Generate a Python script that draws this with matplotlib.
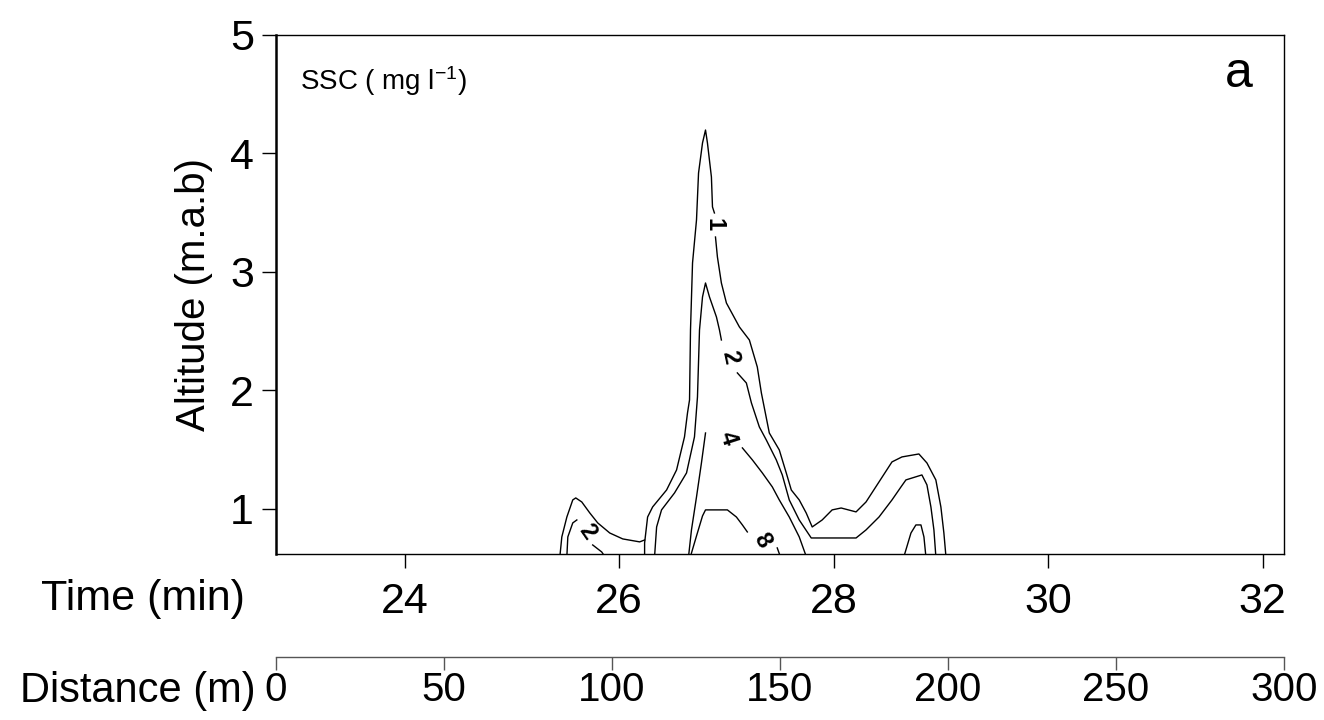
import matplotlib
matplotlib.use("Agg")
import matplotlib.pyplot as plt

plt.rcParams["font.family"] = ["Liberation Sans", "DejaVu Sans"]
plt.rcParams["mathtext.fontset"] = "custom"
plt.rcParams["mathtext.rm"] = "Liberation Sans"
plt.rcParams["mathtext.it"] = "Liberation Sans"

# SSC contour lines (time in min, altitude in m above bed), split where a label sits
c1_bump_t = [25.447, 25.465, 25.512, 25.567, 25.595, 25.651, 25.726, 25.800, 25.912, 26.033, 26.191, 26.237]
c1_bump_a = [0.60, 0.764, 0.932, 1.076, 1.093, 1.059, 0.966, 0.882, 0.797, 0.747, 0.722, 0.738]
c1_left_t = [26.237, 26.237, 26.265, 26.312, 26.442, 26.535, 26.609, 26.637, 26.656, 26.665,
             26.684, 26.721, 26.740, 26.777, 26.805, 26.823, 26.860, 26.870, 26.888]
c1_left_a = [0.60, 0.713, 0.932, 1.017, 1.160, 1.329, 1.608, 1.810, 1.920, 2.511,
             3.076, 3.439, 3.835, 4.089, 4.198, 4.089, 3.802, 3.549, 3.498]
c1_right_t = [26.898, 26.916, 26.953, 27.000, 27.121, 27.214, 27.288, 27.326, 27.400, 27.493,
              27.558, 27.605, 27.679, 27.744, 27.800, 27.893, 27.986, 28.070, 28.209, 28.302,
              28.423, 28.544, 28.637, 28.795, 28.870, 28.953, 29.000, 29.028, 29.047]
c1_right_a = [3.295, 3.127, 2.907, 2.738, 2.536, 2.426, 2.198, 1.979, 1.641, 1.498,
              1.304, 1.160, 1.076, 0.966, 0.848, 0.907, 0.992, 1.008, 0.975, 1.059,
              1.228, 1.397, 1.439, 1.464, 1.388, 1.245, 1.017, 0.797, 0.60]

c2_bump_l_t = [25.512, 25.521, 25.567, 25.605]
c2_bump_l_a = [0.60, 0.764, 0.882, 0.907]
c2_bump_r_t = [25.753, 25.837, 25.865]
c2_bump_r_a = [0.696, 0.637, 0.60]
c2_left_t = [26.330, 26.349, 26.395, 26.516, 26.628, 26.702, 26.730, 26.749, 26.777, 26.805,
             26.842, 26.907, 26.935, 26.953]
c2_left_a = [0.60, 0.848, 0.992, 1.135, 1.304, 1.608, 1.945, 2.511, 2.789, 2.907,
             2.789, 2.620, 2.511, 2.426]
c2_right_t = [27.102, 27.186, 27.233, 27.307, 27.372, 27.465, 27.521, 27.586, 27.679, 27.791,
              28.209, 28.302, 28.423, 28.544, 28.628, 28.674, 28.823, 28.870, 28.907, 28.935, 28.953]
c2_right_a = [2.148, 2.063, 1.895, 1.692, 1.582, 1.414, 1.287, 1.076, 0.907, 0.755,
              0.755, 0.823, 0.932, 1.076, 1.186, 1.245, 1.287, 1.203, 1.017, 0.823, 0.60]

c4_left_t = [26.647, 26.674, 26.721, 26.767, 26.805]
c4_left_a = [0.60, 0.823, 1.101, 1.388, 1.641]
c4_right_t = [27.149, 27.242, 27.335, 27.428, 27.493, 27.586, 27.679, 27.744]
c4_right_a = [1.515, 1.414, 1.304, 1.186, 1.076, 0.932, 0.764, 0.60]
c4_dome_t = [28.656, 28.721, 28.767, 28.814, 28.842, 28.860]
c4_dome_a = [0.60, 0.797, 0.865, 0.865, 0.764, 0.60]

c8_left_t = [26.665, 26.721, 26.777, 26.805, 27.009, 27.093, 27.149, 27.195]
c8_left_a = [0.60, 0.772, 0.941, 0.992, 0.992, 0.932, 0.865, 0.806]
c8_right_t = [27.474, 27.502]
c8_right_a = [0.671, 0.60]

# contour labels: text, time, altitude, rotation
label_text = ["1", "2", "4", "8", "2"]
label_t = [26.888, 27.028, 27.009, 27.335, 25.698]
label_a = [3.397, 2.283, 1.599, 0.738, 0.806]
label_rot = [-90, -78, -72, -60, -55]

time_ticks = [24, 26, 28, 30, 32]
alt_ticks = [1, 2, 3, 4, 5]
dist_ticks = [0, 50, 100, 150, 200, 250, 300]

fig = plt.figure(figsize=(13.24, 7.2), dpi=100)
ax = fig.add_axes([0.2085, 0.2306, 0.7613, 0.7208])

segments = [
    (c1_bump_t, c1_bump_a), (c1_left_t, c1_left_a), (c1_right_t, c1_right_a),
    (c2_bump_l_t, c2_bump_l_a), (c2_bump_r_t, c2_bump_r_a),
    (c2_left_t, c2_left_a), (c2_right_t, c2_right_a),
    (c4_left_t, c4_left_a), (c4_right_t, c4_right_a), (c4_dome_t, c4_dome_a),
    (c8_left_t, c8_left_a), (c8_right_t, c8_right_a),
]
for t, a in segments:
    ax.plot(t, a, color="black", lw=1.0)

for s, t, a, r in zip(label_text, label_t, label_a, label_rot):
    ax.text(t, a, s, rotation=r, ha="center", va="center", fontsize=17,
            fontweight="bold", color="black")

ax.set_xlim(22.8, 32.2)
ax.set_ylim(0.62, 5.0)
ax.set_xticks(time_ticks)
ax.set_yticks(alt_ticks)
ax.tick_params(axis="both", direction="out", length=10, width=1.0, labelsize=31, pad=6)
ax.tick_params(axis="x", pad=10)
for side in ["top", "right", "bottom"]:
    ax.spines[side].set_linewidth(1.0)
ax.spines["left"].set_linewidth(1.8)
ax.set_ylabel("Altitude (m.a.b)", fontsize=29, labelpad=12)

ax.text(0.024, 0.912, "SSC ( mg l$^{-1}$)", transform=ax.transAxes, fontsize=20,
        ha="left", va="center")
ax.text(0.955, 0.925, "a", transform=ax.transAxes, fontsize=36, ha="center", va="center")

fig.text(0.185, 0.168, "Time (min)", fontsize=31, ha="right", va="center")

# distance scale below the time axis
dax = fig.add_axes([0.2085, 0.0875, 0.7613, 0.0001])
dax.set_xlim(0, 300)
dax.set_xticks(dist_ticks)
dax.set_yticks([])
for side in ["top", "left", "right"]:
    dax.spines[side].set_visible(False)
dax.spines["bottom"].set_color("#555555")
dax.spines["bottom"].set_linewidth(1.0)
dax.tick_params(axis="x", direction="out", length=9, width=1.0, color="#555555",
                labelsize=29, pad=1)
fig.text(0.193, 0.040, "Distance (m)", fontsize=30, ha="right", va="center")

fig.savefig("out.png", dpi=100)
